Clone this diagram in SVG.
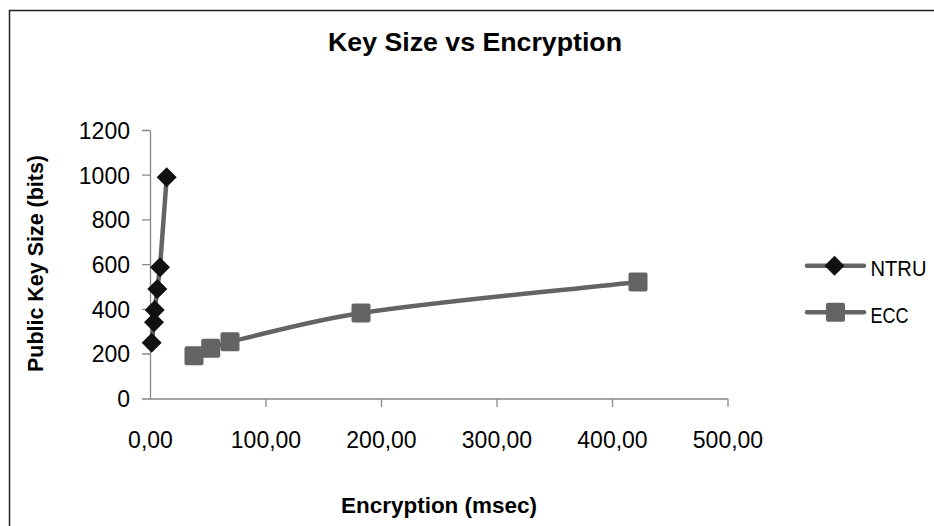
<svg xmlns="http://www.w3.org/2000/svg" width="934" height="526" viewBox="0 0 934 526">
<style>
text{font-family:"Liberation Sans",Arial,sans-serif;fill:#000}
.tick{font-size:23px}
.ytick{text-anchor:end}
.xtick{text-anchor:middle}
.bold{font-weight:bold}
.axis{stroke:#888;stroke-width:1.3;fill:none}
.series{stroke:#646464;stroke-width:4.5;fill:none;stroke-linejoin:round;stroke-linecap:round}
.dia{fill:#111}
.sq{fill:#646464}
</style>
<defs>
<path id="diamond" class="dia" d="M0,-10 L10,0 L0,10 L-10,0 Z"/>
<rect id="square" class="sq" x="-9.5" y="-9.5" width="19" height="19" rx="2"/>
</defs>
<rect width="934" height="526" fill="#fff"/>
<rect x="9.5" y="10.5" width="940" height="540" fill="none" stroke="#222" stroke-width="1.5"/>
<g id="title"><text class="bold" x="475" y="51" font-size="25.5" text-anchor="middle" textLength="294" lengthAdjust="spacingAndGlyphs">Key Size vs Encryption</text></g>
<g id="axes">
<path class="axis" d="M150.5,130.5 V399 M142,399 H728 M142,130.5 H150.5 M142,175.2 H150.5 M142,219.9 H150.5 M142,264.6 H150.5 M142,309.3 H150.5 M142,354 H150.5 M266,399 V407 M381.5,399 V407 M497,399 V407 M612.5,399 V407 M728,399 V407"/>
</g>
<g id="yticks" class="tick ytick">
<text x="130" y="139">1200</text>
<text x="130" y="184">1000</text>
<text x="130" y="228">800</text>
<text x="130" y="273">600</text>
<text x="130" y="318">400</text>
<text x="130" y="362">200</text>
<text x="130" y="407">0</text>
</g>
<g id="xticks" class="tick xtick">
<text x="150.5" y="448">0,00</text>
<text x="266" y="448">100,00</text>
<text x="381.5" y="448">200,00</text>
<text x="497" y="448">300,00</text>
<text x="612.5" y="448">400,00</text>
<text x="728" y="448">500,00</text>
</g>
<g id="ylabel"><text class="bold" font-size="21.5" text-anchor="middle" transform="translate(43,263.5) rotate(-90)" textLength="217" lengthAdjust="spacingAndGlyphs">Public Key Size (bits)</text></g>
<g id="xlabel"><text class="bold" font-size="21.5" x="439" y="513" text-anchor="middle" textLength="196" lengthAdjust="spacingAndGlyphs">Encryption (msec)</text></g>
<g id="connectors">
<polyline class="series" points="151.7,342.7 154,322.3 154.7,310 157.3,289 160,267.3 166.7,177.3"/>
<path class="series" d="M194,355.7 L210.7,348.3 L230,341.7 C273.5,331.5 316.8,319.5 361,313 C452.9,299.5 545.7,292.3 638,282"/>
</g>
<g id="ntru">
<use href="#diamond" x="151.7" y="342.7"/>
<use href="#diamond" x="154" y="322.3"/>
<use href="#diamond" x="154.7" y="310"/>
<use href="#diamond" x="157.3" y="289"/>
<use href="#diamond" x="160" y="267.3"/>
<use href="#diamond" x="166.7" y="177.3"/>
</g>
<g id="ecc">
<use href="#square" x="194" y="355.7"/>
<use href="#square" x="210.7" y="348.3"/>
<use href="#square" x="230" y="341.7"/>
<use href="#square" x="361" y="313"/>
<use href="#square" x="638" y="282"/>
</g>
<g id="legend">
<line class="series" x1="807" y1="265.7" x2="864" y2="265.7"/>
<use href="#diamond" x="834.5" y="265.7"/>
<text x="870.5" y="276" font-size="22" textLength="56" lengthAdjust="spacingAndGlyphs">NTRU</text>
<line class="series" x1="807" y1="312.3" x2="864" y2="312.3"/>
<use href="#square" x="835.5" y="312.3"/>
<text x="870.5" y="323" font-size="22" textLength="38" lengthAdjust="spacingAndGlyphs">ECC</text>
</g>
</svg>
